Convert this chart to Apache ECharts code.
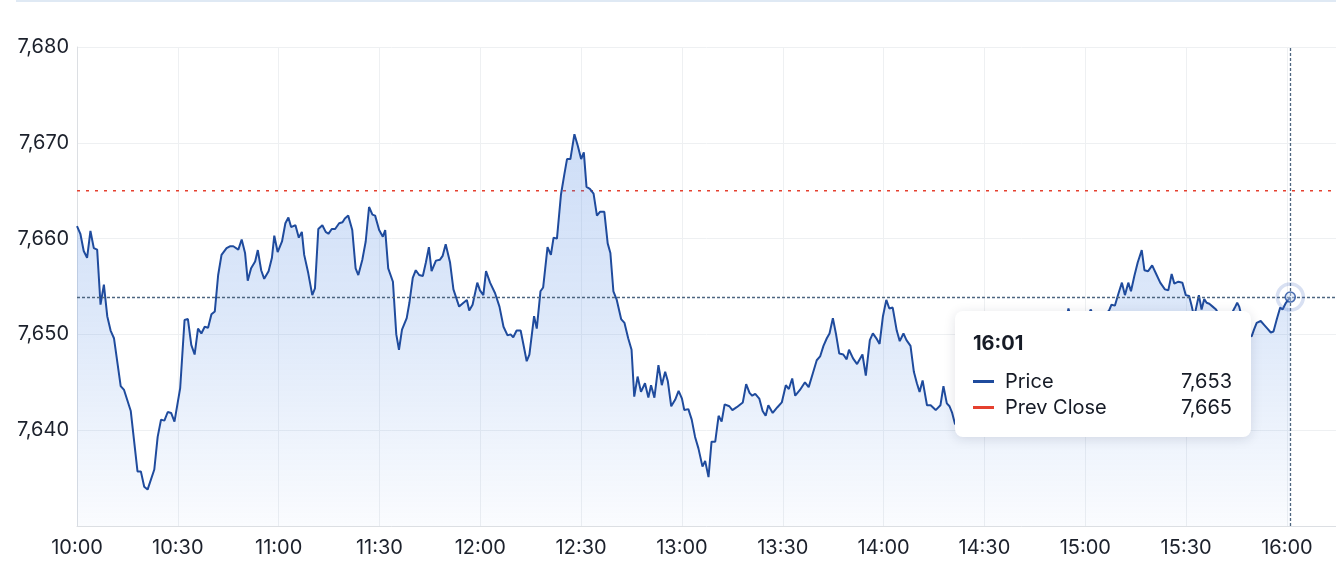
<!DOCTYPE html>
<html>
<head>
<meta charset="utf-8">
<script src="https://cdn.jsdelivr.net/npm/echarts@6/dist/echarts.min.js"></script>
<style>
  html, body { margin: 0; padding: 0; background: #ffffff; }
  #chart { width: 1336px; height: 574px; }
</style>
</head>
<body>
<div id="chart"></div>
<script>
// ---- data ----
// minutes after the 10:00 open
const minutes = [
  0, 1, 2, 3, 4, 5, 6, 7, 8, 9, 10, 11, 13, 14, 16, 18, 19, 20, 21, 23,
  24, 25, 26, 27, 28, 29, 30.7, 32, 33, 34, 35, 36, 37, 38, 39, 40, 41, 42, 43, 44.5,
  45.5, 46.5, 48, 49, 50, 50.8, 51.8, 53, 53.8, 54.8, 55.7, 57, 58, 58.7, 59.7, 61, 62, 62.9, 63.7, 65,
  66, 66.9, 67.6, 68.8, 70, 70.8, 71.8, 73, 74, 74.8, 75.8, 76.8, 78, 79, 79.7, 80.7, 81.9, 82.9, 83.7, 84.9,
  85.9, 86.9, 87.9, 88.7, 89.9, 91, 91.7, 92.6, 94, 95, 95.8, 96.7, 98.1, 98.9, 99.9, 100.8, 101.8, 102.9, 103.8, 104.7,
  105.5, 106.8, 108, 108.8, 109.7, 111, 112, 113.7, 115, 116, 116.7, 117.7, 119.1, 119.9, 120.9, 121.7, 122.9, 124.4, 125.7, 126.9,
  128.1, 129, 129.8, 130.8, 132, 132.8, 133.8, 134.6, 136, 136.8, 137.9, 138.7, 140, 141, 141.8, 142.8, 144, 145, 145.8, 146.8,
  148, 149, 150, 150.8, 151.6, 152.6, 153.7, 154.7, 155.6, 156.9, 157.9, 158.7, 159.6, 160.6, 161.9, 162.9, 164, 165, 165.8, 166.8,
  167.8, 169, 170, 170.8, 171.8, 173, 174, 175, 175.8, 176.8, 178, 179, 180, 180.7, 181.9, 182.9, 183.9, 184.9, 186.1, 186.9,
  187.9, 188.8, 189.9, 190.9, 191.8, 192.7, 194.1, 195, 196.3, 198.1, 199.1, 200.1, 200.9, 201.8, 203, 204, 204.9, 205.7, 207, 208.4,
  209.7, 210.9, 211.8, 212.8, 213.7, 215.1, 216.6, 217.7, 218.9, 220.1, 221.1, 222.1, 223.1, 223.9, 224.9, 225.8, 226.8, 228, 229, 229.7,
  230.9, 232.1, 233.7, 234.7, 235.9, 236.8, 238, 238.8, 239.8, 240.8, 241.7, 242.7, 243.9, 244.8, 245.9, 246.8, 248, 249, 249.9, 250.7,
  251.6, 252.9, 254, 255.5, 256.9, 257.8, 258.8, 259.6, 260.4, 261.2, 262.5, 264, 266, 268, 270, 272, 274, 276, 278, 280,
  282, 284, 286, 288, 290, 292, 294, 295, 296, 298, 300, 301.6, 303, 305, 307.1, 307.8, 308.8, 309.9, 310.9, 311.8,
  312.8, 313.6, 314.6, 315.6, 316.8, 317.6, 318.7, 319.9, 321.1, 322.3, 323.7, 324.7, 325.7, 326.5, 327.7, 328.9, 329.9, 330.9, 331.7, 332.4,
  333.8, 334.6, 335.4, 336.1, 336.9, 337.9, 338.9, 340, 341.5, 343, 344.5, 345.2, 345.8, 346.5, 347.5, 348.5, 349.5, 350.2, 351, 352.2,
  353.2, 354.2, 355.2, 356, 357, 358, 358.7, 359.7, 361
];
const prices = [
  7661.3, 7660.5, 7658.7, 7658.0, 7660.8, 7659.0, 7658.85, 7653.1, 7655.2, 7651.9, 7650.4, 7649.6, 7644.6, 7644.2, 7642.0, 7635.7, 7635.7, 7634.1, 7633.8, 7635.9,
  7639.3, 7641.1, 7641.0, 7641.9, 7641.8, 7640.9, 7644.4, 7651.5, 7651.6, 7648.9, 7647.9, 7650.6, 7650.1, 7650.8, 7650.7, 7652.1, 7652.4, 7656.2, 7658.3, 7659.0,
  7659.2, 7659.2, 7658.85, 7659.9, 7658.5, 7655.6, 7656.9, 7657.6, 7658.8, 7656.7, 7655.8, 7656.6, 7658.0, 7660.3, 7658.6, 7659.7, 7661.6, 7662.2, 7661.2, 7661.4,
  7660.1, 7660.7, 7658.3, 7656.4, 7654.1, 7654.8, 7661.0, 7661.4, 7660.7, 7660.5, 7661.0, 7661.0, 7661.6, 7661.7, 7662.1, 7662.4, 7660.9, 7656.9, 7656.2, 7657.8,
  7659.7, 7663.3, 7662.5, 7662.4, 7660.9, 7660.2, 7660.9, 7656.9, 7655.5, 7650.0, 7648.4, 7650.5, 7651.7, 7653.3, 7655.9, 7656.7, 7656.2, 7656.1, 7657.5, 7659.1,
  7656.6, 7657.7, 7657.8, 7658.2, 7659.4, 7657.5, 7654.7, 7652.9, 7653.3, 7653.6, 7652.5, 7653.1, 7655.4, 7654.6, 7654.1, 7656.6, 7655.4, 7654.3, 7652.9, 7650.8,
  7649.9, 7650.0, 7649.7, 7650.4, 7650.4, 7649.0, 7647.2, 7647.9, 7651.9, 7650.6, 7654.5, 7654.9, 7659.1, 7658.3, 7660.1, 7660.0, 7664.6, 7666.7, 7668.3, 7668.3,
  7670.9, 7669.7, 7668.3, 7669.0, 7665.4, 7665.2, 7664.7, 7662.4, 7662.8, 7662.8, 7659.5, 7658.5, 7654.5, 7653.6, 7651.6, 7651.2, 7649.6, 7648.4, 7643.5, 7645.6,
  7644.0, 7644.9, 7643.4, 7644.7, 7643.4, 7646.8, 7644.7, 7646.1, 7645.1, 7642.5, 7643.2, 7644.1, 7643.3, 7642.1, 7642.2, 7641.1, 7639.3, 7638.1, 7636.2, 7636.8,
  7635.1, 7638.8, 7638.8, 7641.5, 7640.9, 7642.7, 7642.5, 7642.1, 7642.4, 7642.9, 7644.8, 7643.9, 7643.6, 7643.8, 7643.3, 7642.0, 7641.5, 7642.6, 7641.8, 7642.4,
  7642.9, 7644.7, 7644.3, 7645.4, 7643.6, 7644.2, 7645.0, 7644.5, 7645.9, 7647.3, 7647.7, 7648.8, 7649.6, 7650.1, 7651.7, 7650.1, 7648.0, 7647.9, 7647.4, 7648.4,
  7647.5, 7646.9, 7647.9, 7645.7, 7649.4, 7650.1, 7649.5, 7649.0, 7651.9, 7653.6, 7652.7, 7652.8, 7650.4, 7649.3, 7650.1, 7649.4, 7648.8, 7646.1, 7644.9, 7644.0,
  7645.2, 7642.6, 7642.6, 7642.1, 7642.6, 7644.6, 7642.8, 7642.5, 7641.8, 7640.7, 7640.2, 7641.3, 7640.6, 7642.4, 7643.5, 7642.9, 7644.8, 7645.6, 7645.0, 7646.9,
  7647.6, 7647.1, 7648.7, 7649.4, 7648.9, 7650.5, 7651.0, 7652.7, 7651.2, 7650.4, 7651.1, 7652.6, 7651.4, 7651.8, 7652.5, 7653.1, 7653.0, 7654.3, 7655.4, 7654.1,
  7655.4, 7654.5, 7656.1, 7657.5, 7658.8, 7656.7, 7656.6, 7657.2, 7656.3, 7655.4, 7654.7, 7654.6, 7656.3, 7655.3, 7655.5, 7655.4, 7654.1, 7654.0, 7652.9, 7651.8,
  7654.1, 7652.6, 7653.7, 7653.3, 7653.2, 7652.9, 7652.6, 7651.9, 7651.3, 7651.8, 7652.8, 7653.3, 7652.9, 7651.9, 7651.0, 7650.0, 7649.8, 7650.5, 7651.2, 7651.4,
  7651.0, 7650.6, 7650.2, 7650.3, 7651.6, 7652.8, 7652.6, 7653.3, 7653.9
];
const prevClose = 7665;
const xTickLabels = ['10:00', '10:30', '11:00', '11:30', '12:00', '12:30', '13:00',
                     '13:30', '14:00', '14:30', '15:00', '15:30', '16:00'];
const seriesNames = ['Price', 'Prev Close'];

// ---- helpers ----
const OPEN_MIN = 10 * 60;
function clockLabel(m) {
  const t = OPEN_MIN + Math.round(m);
  const h = Math.floor(t / 60), mm = t % 60;
  return h + ':' + (mm < 10 ? '0' : '') + mm;
}
function fmtNum(v) { return Math.floor(v).toLocaleString('en-US'); }

const priceData = minutes.map((m, i) => [m, prices[i]]);
const lastIdx = minutes.length - 1;
const lastPoint = [minutes[lastIdx], prices[lastIdx]];
const X_MAX = 374.6;
const FONT = 'Inter, "Noto Sans", sans-serif';
const LINE_BLUE = '#1f4b9d';
const PREV_RED = '#e5402f';

const chart = echarts.init(document.getElementById('chart'), null, { renderer: 'canvas' });

const option = {
  animation: false,
  grid: { left: 77, right: 0, top: 47, bottom: 48, containLabel: false, outerBoundsMode: 'none' },
  xAxis: {
    type: 'value',
    min: 0,
    max: X_MAX,
    interval: 30,
    axisLine: { show: true, lineStyle: { color: '#dcdfe3', width: 1 } },
    axisTick: { show: false },
    splitLine: { show: true, lineStyle: { color: '#eef0f2', width: 1 } },
    axisLabel: {
      show: true,
      showMaxLabel: false,
      margin: 12,
      color: '#1c212c',
      fontSize: 20,
      fontFamily: FONT,
      formatter: function (v) {
        const k = Math.round(v / 30);
        return (Math.abs(v - k * 30) < 1e-6 && xTickLabels[k]) ? xTickLabels[k] : '';
      }
    }
  },
  yAxis: {
    type: 'value',
    min: 7630,
    max: 7680,
    interval: 10,
    axisLine: { show: true, lineStyle: { color: '#dcdfe3', width: 1 } },
    axisTick: { show: false },
    splitLine: { show: true, lineStyle: { color: '#eef0f2', width: 1 } },
    axisLabel: {
      showMinLabel: false,
      margin: 8,
      color: '#1c212c',
      fontSize: 20,
      fontFamily: FONT,
      formatter: function (v) { return v.toLocaleString('en-US'); }
    }
  },
  tooltip: {
    trigger: 'item',
    triggerOn: 'none',
    alwaysShowContent: true,
    transitionDuration: 0,
    backgroundColor: '#ffffff',
    borderWidth: 0,
    padding: 0,
    extraCssText: 'border-radius:8px;box-shadow:0 2px 12px rgba(20,30,60,0.13);width:296px;height:126px;box-sizing:border-box;',
    position: function () { return [955, 311]; },
    formatter: function () {
      const row = (color, name, val) =>
        '<div style="display:flex;align-items:center;height:26px;">' +
          '<span style="display:inline-block;width:21px;height:3px;background:' + color + ';margin-right:11px;"></span>' +
          '<span style="flex:1;">' + name + '</span>' +
          '<span>' + val + '</span>' +
        '</div>';
      return '<div style="padding:20px 19px 17px 18px;font-family:' + FONT.replace(/"/g, "'") + ';color:#161b26;font-size:20px;">' +
        '<div style="font-weight:700;font-size:20px;line-height:24px;height:24px;margin-bottom:13px;">' + clockLabel(lastPoint[0]) + '</div>' +
        row(LINE_BLUE, seriesNames[0], fmtNum(lastPoint[1])) +
        row(PREV_RED, seriesNames[1], fmtNum(prevClose)) +
      '</div>';
    }
  },
  graphic: [
    { type: 'rect', left: 16, top: 0, shape: { width: 1320, height: 2 }, style: { fill: '#dfe9f4' }, silent: true }
  ],
  series: [
    {
      name: seriesNames[0],
      type: 'line',
      data: priceData,
      showSymbol: false,
      symbol: 'none',
      emphasis: { disabled: true },
      lineStyle: { color: LINE_BLUE, width: 2 },
      areaStyle: {
        origin: 'start',
        color: new echarts.graphic.LinearGradient(0, 0, 0, 1, [
          { offset: 0, color: 'rgba(70,130,225,0.38)' },
          { offset: 0.47, color: 'rgba(70,130,225,0.26)' },
          { offset: 1, color: 'rgba(70,130,225,0.04)' }
        ])
      },
      markLine: {
        silent: true,
        symbol: 'none',
        label: { show: false },
        lineStyle: { color: '#4d6680', type: [3, 2], width: 1.3 },
        data: [{ xAxis: lastPoint[0] }, { yAxis: lastPoint[1] }]
      },
      z: 3
    },
    {
      name: seriesNames[1],
      type: 'line',
      data: [[0, prevClose], [X_MAX, prevClose]],
      symbol: 'none',
      emphasis: { disabled: true },
      lineStyle: { color: PREV_RED, width: 1.6, type: [3, 6] },
      z: 2
    },
    {
      name: 'halo',
      type: 'scatter',
      data: [lastPoint],
      symbol: 'circle',
      symbolSize: 26,
      emphasis: { disabled: true },
      itemStyle: { color: 'rgba(255,255,255,0)', borderColor: 'rgba(80,115,195,0.28)', borderWidth: 3.5 },
      z: 5
    },
    {
      name: 'marker',
      type: 'scatter',
      data: [lastPoint],
      symbol: 'circle',
      symbolSize: 10,
      emphasis: { disabled: true },
      itemStyle: { color: 'rgba(205,220,246,0.5)', borderColor: LINE_BLUE, borderWidth: 1.6 },
      z: 6
    }
  ]
};

chart.setOption(option);
chart.dispatchAction({ type: 'showTip', seriesIndex: 3, dataIndex: 0 });
</script>
</body>
</html>
